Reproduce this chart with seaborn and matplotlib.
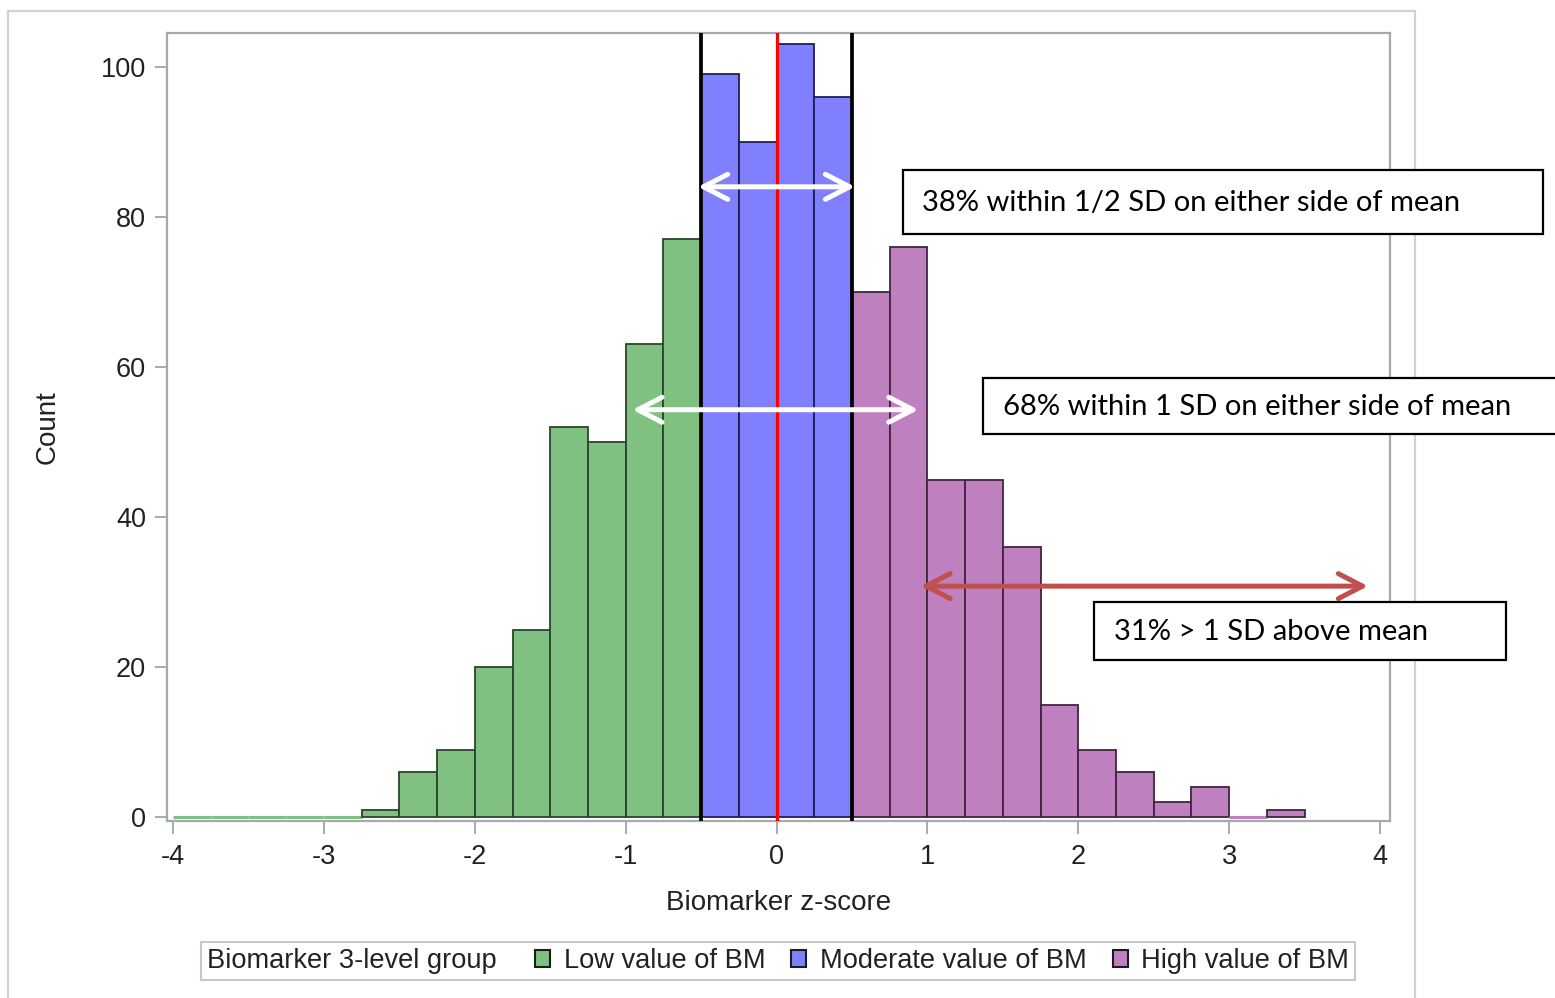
import numpy as np
import pandas as pd
import matplotlib
matplotlib.use("Agg")
import matplotlib.pyplot as plt
import seaborn as sns
from matplotlib.patches import Patch, Rectangle
from matplotlib.offsetbox import HPacker

# ---------------- data ----------------
low_bin_edges = [-4.0, -3.75, -3.5, -3.25, -3.0, -2.75, -2.5, -2.25, -2.0,
                 -1.75, -1.5, -1.25, -1.0, -0.75, -0.5]
low_counts = [0, 0, 0, 0, 0, 1, 6, 9, 20, 25, 52, 50, 63, 77]
mod_bin_edges = [-0.5, -0.25, 0.0, 0.25, 0.5]
mod_counts = [99, 90, 103, 96]
high_bin_edges = [0.5, 0.75, 1.0, 1.25, 1.5, 1.75, 2.0, 2.25, 2.5, 2.75,
                  3.0, 3.25, 3.5]
high_counts = [70, 76, 45, 45, 36, 15, 9, 6, 2, 4, 0, 1]

group_labels = ["Low value of BM", "Moderate value of BM", "High value of BM"]
legend_title = "Biomarker 3-level group"
x_ticks = [-4, -3, -2, -1, 0, 1, 2, 3, 4]
y_ticks = [0, 20, 40, 60, 80, 100]
cut_points = [-0.5, 0.5]
mean_z = 0.0
annotation_texts = ["38% within 1/2 SD on either side of mean",
                    "68% within 1 SD on either side of mean",
                    "31% > 1 SD above mean"]
arrow_spans = [(-0.52, 0.52, 84.0), (-0.955, 0.94, 54.3), (0.955, 3.92, 30.8)]

# ---------------- styling ----------------
W, H = 1555, 998
colors = ["#80C080", "#8080FF", "#BF80BF"]
edge_cols = ["#2A452A", "#1E1E55", "#402540"]
sas_font = ["Liberation Sans", "DejaVu Sans"]
note_font = ["Lato", "DejaVu Sans"]
txt_col = "#222222"
axis_gray = "#A6AAAE"

sns.set_theme(style="white")
plt.rcParams["font.family"] = sas_font

def fx(px):
    return px / W

def fy(py):
    return 1 - py / H

fig = plt.figure(figsize=(W / 100, H / 100), dpi=100)
ax = fig.add_axes([fx(167), fy(820.7), (1390 - 167) / W, (820.7 - 33.3) / H])

groups = [(low_bin_edges, low_counts), (mod_bin_edges, mod_counts),
          (high_bin_edges, high_counts)]
for (edges, counts), lab, col, ec in zip(groups, group_labels, colors, edge_cols):
    e = np.asarray(edges)
    df = pd.DataFrame({"z": (e[:-1] + e[1:]) / 2, "count": counts})
    n_before = len(ax.patches)
    sns.histplot(data=df, x="z", weights="count", bins=edges, color=col,
                 alpha=1, edgecolor=ec, linewidth=1.3, ax=ax,
                 label=lab, zorder=2)
    for p in ax.patches[n_before:]:
        if p.get_height() == 0:
            p.set_edgecolor(col)
            p.set_linewidth(2.2)

for c in cut_points:
    ax.axvline(c, color="black", lw=2.7, zorder=3)
ax.axvline(mean_z, color="#FF0000", lw=2.3, zorder=3)

arrow_colors = ["white", "white", "#C0504D"]
for (x0, x1, y), ac in zip(arrow_spans, arrow_colors):
    ax.annotate("", xy=(x1, y), xytext=(x0, y),
                arrowprops=dict(arrowstyle="<->,head_length=1.45,head_width=0.75",
                                color=ac, lw=3.6, shrinkA=0, shrinkB=0,
                                mutation_scale=12,
                                capstyle="round", joinstyle="round"),
                zorder=5)

ax.set_xlim(-4.04, 4.066)
ax.set_ylim(-0.45, 104.45)
ax.set_xticks(x_ticks)
ax.set_yticks(y_ticks)
ax.set_xticklabels([str(t) for t in x_ticks])
ax.set_yticklabels([str(t) for t in y_ticks])
ax.tick_params(axis="both", which="major", length=9, width=1.4,
               color=axis_gray, labelsize=19.5, labelcolor=txt_col,
               direction="out", bottom=True, left=True)
ax.tick_params(axis="x", pad=8)
ax.tick_params(axis="y", pad=6)
for s in ax.spines.values():
    s.set_color(axis_gray)
    s.set_linewidth(1.6)
ax.grid(False)

ax.set_xlabel("Biomarker z-score", fontsize=20, color=txt_col)
ax.set_ylabel("Count", fontsize=20, color=txt_col)
ax.xaxis.set_label_coords(0.5, -0.088)
ax.yaxis.set_label_coords(-0.087, 0.5)

# legend with inline title
handles = [Patch(facecolor=c, edgecolor="#1c1c1c", linewidth=1.5) for c in colors]
leg = ax.legend(handles, group_labels, title=legend_title, ncol=3,
                loc="center", bbox_to_anchor=(fx(778), fy(961)),
                bbox_transform=fig.transFigure, frameon=True, fancybox=False,
                framealpha=1, edgecolor="#C8C8C8", fontsize=19.6,
                title_fontsize=19.6, handlelength=0.55, handleheight=0.55,
                handletextpad=0.5, columnspacing=0.95, borderpad=0.22,
                borderaxespad=0)
for t in leg.get_texts():
    t.set_color(txt_col)
leg.get_title().set_color(txt_col)
leg.get_frame().set_linewidth(1.5)
vp = leg._legend_box
title_box, cols_box = vp.get_children()[0], vp.get_children()[1]
vp._children = [HPacker(children=[title_box, cols_box], align="center",
                        pad=0, sep=28)]

# annotation boxes (figure coordinates)
boxes = [(903, 170, 1543, 234, 922), (983, 378, 1565, 434, 1003),
         (1094, 602, 1506, 660, 1114)]
for (x0, y0, x1, y1, tx), txt in zip(boxes, annotation_texts):
    fig.add_artist(Rectangle((fx(x0), fy(y1)), (x1 - x0) / W, (y1 - y0) / H,
                             transform=fig.transFigure, facecolor="white",
                             edgecolor="black", linewidth=1.6, zorder=6))
    fig.text(fx(tx), fy((y0 + y1) / 2 + 1), txt, family=note_font,
             fontsize=21, ha="left", va="center", color="black", zorder=7)

# outer graph border
fig.add_artist(Rectangle((fx(8), fy(1010)), (1415 - 8) / W, (1010 - 11) / H,
                         transform=fig.transFigure, fill=False,
                         edgecolor="#D2D2D2", linewidth=1.6, zorder=0))

fig.savefig("out.png", dpi=100, facecolor="white")
